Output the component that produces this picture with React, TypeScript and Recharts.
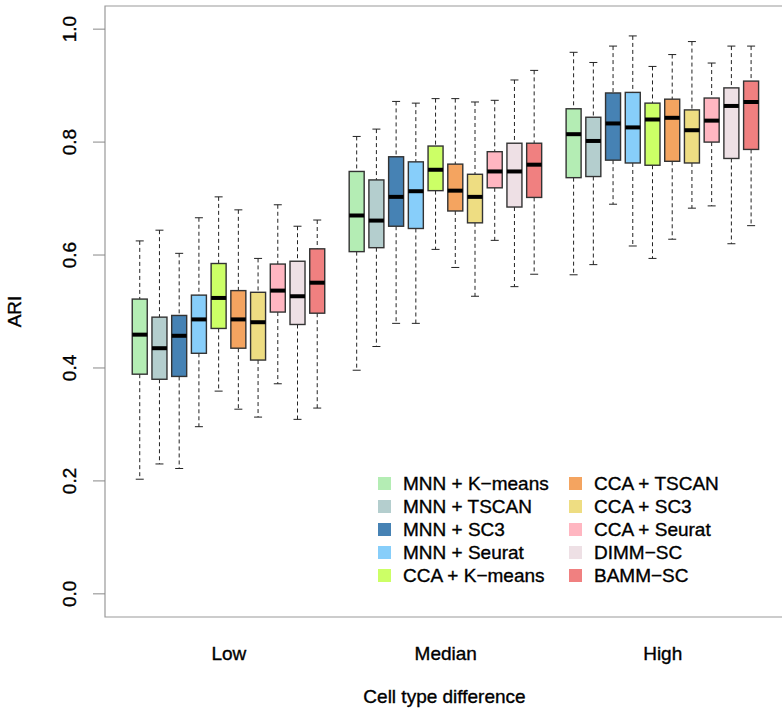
import React from 'react';
import { ComposedChart, Bar, XAxis, YAxis, ReferenceArea } from 'recharts';

const GROUPS = ['Low', 'Median', 'High'];
const METHODS = [
  'MNN + K\u2212means', 'MNN + TSCAN', 'MNN + SC3', 'MNN + Seurat', 'CCA + K\u2212means',
  'CCA + TSCAN', 'CCA + SC3', 'CCA + Seurat', 'DIMM\u2212SC', 'BAMM\u2212SC',
];
const COLORS = [
  '#B4EDB4', '#B4CECE', '#4682B4', '#87CEFA', '#CCFF66',
  '#F4A460', '#EEDD82', '#FFB6C1', '#EEE0E5', '#F08080',
];

// one row per group (Low, Median, High), one value per method
const whiskerHi = [
  [0.625, 0.644, 0.603, 0.666, 0.703, 0.680, 0.594, 0.689, 0.651, 0.662],
  [0.810, 0.823, 0.872, 0.869, 0.877, 0.877, 0.871, 0.874, 0.910, 0.927],
  [0.959, 0.941, 0.970, 0.988, 0.934, 0.955, 0.978, 0.940, 0.970, 0.970],
];
const q3 = [
  [0.522, 0.490, 0.493, 0.529, 0.585, 0.537, 0.534, 0.584, 0.589, 0.611],
  [0.748, 0.733, 0.774, 0.765, 0.793, 0.761, 0.743, 0.783, 0.798, 0.798],
  [0.859, 0.844, 0.887, 0.888, 0.869, 0.876, 0.857, 0.878, 0.896, 0.908],
];
const medians = [
  [0.459, 0.435, 0.457, 0.486, 0.524, 0.486, 0.481, 0.537, 0.527, 0.551],
  [0.670, 0.661, 0.703, 0.713, 0.751, 0.714, 0.703, 0.748, 0.748, 0.760],
  [0.814, 0.802, 0.833, 0.826, 0.840, 0.843, 0.821, 0.838, 0.864, 0.871],
];
const q1 = [
  [0.389, 0.380, 0.385, 0.426, 0.470, 0.435, 0.414, 0.499, 0.477, 0.497],
  [0.606, 0.613, 0.651, 0.647, 0.714, 0.678, 0.657, 0.719, 0.685, 0.702],
  [0.737, 0.739, 0.768, 0.763, 0.759, 0.766, 0.763, 0.800, 0.771, 0.787],
];
const whiskerLo = [
  [0.203, 0.230, 0.222, 0.296, 0.359, 0.327, 0.313, 0.372, 0.309, 0.329],
  [0.396, 0.438, 0.479, 0.479, 0.610, 0.578, 0.527, 0.626, 0.544, 0.566],
  [0.565, 0.583, 0.690, 0.616, 0.594, 0.628, 0.683, 0.687, 0.620, 0.652],
];

const yTicks = [0, 0.2, 0.4, 0.6, 0.8, 1.0];
const groupTicks = [5.5, 16.5, 27.5];

const rows = GROUPS.flatMap((g, gi) =>
  METHODS.map((m, mi) => ({
    pos: gi * 11 + mi + 1,
    range: [whiskerLo[gi][mi], whiskerHi[gi][mi]],
    lo: whiskerLo[gi][mi],
    q1: q1[gi][mi],
    med: medians[gi][mi],
    q3: q3[gi][mi],
    hi: whiskerHi[gi][mi],
    color: COLORS[mi],
  }))
);

const FONT = '"Liberation Sans", Arial, Helvetica, sans-serif';
const TEXT_STYLE = { stroke: '#000', strokeWidth: 0.35 };

const BoxShape = (props: any) => {
  const { x, y, width, height, payload } = props;
  const { lo, hi, q1: b1, med, q3: b3, color } = payload;
  const py = (v: number) => y + ((hi - v) / (hi - lo)) * height;
  const cx = x + width / 2;
  const cap = 4;
  return (
    <g>
      <line x1={cx} x2={cx} y1={py(hi)} y2={py(b3)} stroke="#222" strokeDasharray="4 3" />
      <line x1={cx} x2={cx} y1={py(b1)} y2={py(lo)} stroke="#222" strokeDasharray="4 3" />
      <line x1={cx - cap} x2={cx + cap} y1={py(hi)} y2={py(hi)} stroke="#222" />
      <line x1={cx - cap} x2={cx + cap} y1={py(lo)} y2={py(lo)} stroke="#222" />
      <rect x={x} y={py(b3)} width={width} height={py(b1) - py(b3)} fill={color} stroke="#333" strokeWidth={1.4} />
      <line x1={x} x2={x + width} y1={py(med)} y2={py(med)} stroke="#000" strokeWidth={4} />
    </g>
  );
};

const YTick = (props: any) => {
  const { y, payload } = props;
  return (
    <text x={76} y={y} transform={`rotate(-90, 76, ${y})`} textAnchor="middle" fontSize={19} fontFamily={FONT} fill="#000" style={TEXT_STYLE}>
      {payload.value.toFixed(1)}
    </text>
  );
};

const XTick = (props: any) => {
  const { x, payload } = props;
  const idx = groupTicks.indexOf(payload.value);
  return (
    <text x={x} y={660} textAnchor="middle" fontSize={19} fontFamily={FONT} fill="#000" style={TEXT_STYLE}>
      {GROUPS[idx]}
    </text>
  );
};

const LegendBox = () => (
  <div
    style={{
      position: 'absolute', left: 378, top: 472, display: 'grid',
      gridTemplateColumns: '191px 190px', gridAutoFlow: 'column', gridTemplateRows: 'repeat(5, 23px)',
      fontFamily: FONT, fontSize: 19, color: '#000', WebkitTextStroke: '0.35px #000',
    }}
  >
    {METHODS.map((m, i) => (
      <div key={m} style={{ display: 'flex', alignItems: 'center', whiteSpace: 'nowrap' }}>
        <span style={{ width: 13, height: 13, background: COLORS[i], marginRight: 12, display: 'inline-block' }} />
        {m}
      </div>
    ))}
  </div>
);

export default function App() {
  return (
    <div style={{ position: 'absolute', left: 0, top: 0, width: 782, height: 715, background: '#fff', overflow: 'hidden' }}>
      <ComposedChart width={784} height={715} data={rows} margin={{ top: 6, right: 0, bottom: 0, left: 0 }}>
        <XAxis
          dataKey="pos"
          type="number"
          domain={[-0.78, 33.65]}
          ticks={groupTicks}
          tick={<XTick />}
          axisLine={false}
          tickLine={false}
          height={98}
          allowDataOverflow
          label={{ value: 'Cell type difference', position: 'insideBottom', offset: 12, fontSize: 19, fontFamily: FONT, fill: '#000', style: TEXT_STYLE }}
        />
        <YAxis
          type="number"
          domain={[-0.041, 1.041]}
          ticks={yTicks}
          tick={<YTick />}
          axisLine={false}
          tickLine={{ stroke: '#888' }}
          tickSize={12}
          width={105}
          allowDataOverflow
          label={{ value: 'ARI', angle: -90, position: 'insideLeft', offset: 14, fontSize: 19, fontFamily: FONT, fill: '#000', style: { textAnchor: 'middle', ...TEXT_STYLE } }}
        />
        <ReferenceArea x1={-0.78} x2={33.65} y1={-0.041} y2={1.041} fill="none" stroke="#999" strokeWidth={1.2} ifOverflow="visible" />
        <Bar dataKey="range" barSize={15} shape={<BoxShape />} isAnimationActive={false} />
      </ComposedChart>
      <LegendBox />
    </div>
  );
}
